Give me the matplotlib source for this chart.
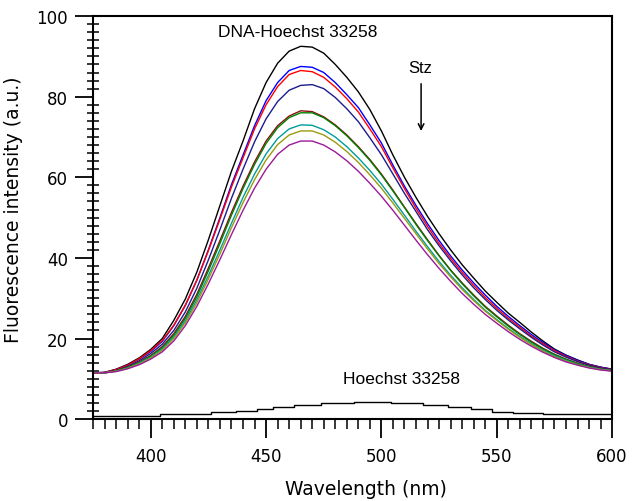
import numpy as np
import matplotlib
matplotlib.use('Agg')
import matplotlib.pyplot as plt
from matplotlib.ticker import MultipleLocator

# Lunghezze d'onda (nm), griglia da 5 nm
wl = np.arange(375, 601, 5)

# Spettri DNA-Hoechst 33258 con aggiunte crescenti di Stz
dna_hoechst = [11.5, 11.6, 12.4, 13.6, 15.2, 17.3, 20.0, 24.5, 29.8, 36.5, 44.5, 53.0, 61.5, 69.0, 77.0, 83.5,
               88.3, 91.3, 92.5, 92.3, 90.8, 88.0, 84.8, 81.2, 76.8, 71.5, 65.5, 60.0, 55.0, 50.3, 46.0, 42.0,
               38.3, 35.0, 31.8, 29.0, 26.3, 24.0, 21.6, 19.4, 17.4, 15.9, 14.7, 13.6, 12.9, 12.4]
stz_1 = [11.5, 11.6, 12.3, 13.4, 14.9, 16.8, 19.3, 23.2, 28.2, 34.5, 42.0, 50.0, 58.2, 65.5, 72.8, 79.0,
         83.5, 86.5, 87.5, 87.3, 86.0, 83.5, 80.5, 77.3, 73.0, 68.5, 63.0, 57.8, 53.0, 48.5, 44.3, 40.5,
         37.0, 33.8, 30.8, 28.0, 25.5, 23.2, 21.0, 19.0, 17.2, 15.8, 14.6, 13.6, 12.9, 12.4]
stz_2 = [11.4, 11.6, 12.3, 13.4, 15.0, 17.0, 19.5, 23.3, 28.3, 34.5, 41.8, 49.6, 57.6, 64.8, 72.0, 78.0,
         82.5, 85.5, 86.5, 86.2, 84.8, 82.4, 79.5, 76.2, 72.0, 67.6, 62.3, 57.2, 52.3, 47.8, 43.6, 39.9,
         36.4, 33.2, 30.2, 27.5, 25.0, 22.8, 20.6, 18.7, 17.0, 15.6, 14.4, 13.5, 12.8, 12.3]
stz_3 = [11.4, 11.5, 12.1, 13.1, 14.5, 16.3, 18.6, 22.0, 26.6, 32.5, 39.5, 47.0, 54.8, 62.0, 68.8, 74.5,
         78.8, 81.6, 82.8, 83.0, 82.0, 79.8, 77.0, 73.8, 69.8, 65.6, 60.8, 56.0, 51.5, 47.0, 43.0, 39.3,
         35.8, 32.6, 29.7, 27.0, 24.6, 22.4, 20.3, 18.4, 16.7, 15.4, 14.3, 13.4, 12.7, 12.3]
stz_4 = [11.4, 11.5, 12.0, 12.9, 14.2, 15.8, 18.0, 21.2, 25.5, 31.0, 37.5, 44.3, 51.3, 57.8, 63.8, 69.0,
         72.8, 75.2, 76.5, 76.3, 75.0, 73.0, 70.5, 67.6, 64.4, 60.8, 56.8, 52.6, 48.5, 44.5, 40.6, 37.0,
         33.8, 30.8, 28.0, 25.6, 23.3, 21.2, 19.3, 17.6, 16.1, 14.9, 13.9, 13.1, 12.5, 12.1]
stz_5 = [11.4, 11.5, 12.0, 12.8, 14.0, 15.6, 17.7, 20.8, 25.0, 30.4, 36.8, 43.6, 50.6, 57.2, 63.2, 68.4,
         72.3, 74.8, 76.0, 76.0, 74.8, 72.8, 70.3, 67.4, 64.2, 60.6, 56.6, 52.5, 48.3, 44.3, 40.5, 36.9,
         33.6, 30.6, 27.8, 25.4, 23.1, 21.0, 19.1, 17.4, 16.0, 14.8, 13.8, 13.0, 12.4, 12.1]
stz_6 = [11.4, 11.5, 11.9, 12.7, 13.9, 15.4, 17.4, 20.4, 24.4, 29.6, 35.6, 42.0, 48.6, 55.0, 60.8, 65.8,
         69.6, 72.0, 73.0, 72.9, 71.8, 70.0, 67.6, 64.8, 61.7, 58.3, 54.5, 50.6, 46.6, 42.8, 39.1, 35.7,
         32.6, 29.7, 27.0, 24.7, 22.5, 20.5, 18.7, 17.1, 15.7, 14.6, 13.6, 12.9, 12.4, 12.0]
stz_7 = [11.4, 11.5, 11.9, 12.6, 13.7, 15.2, 17.1, 20.0, 23.9, 28.9, 34.8, 41.0, 47.5, 53.7, 59.4, 64.3,
         68.1, 70.5, 71.5, 71.5, 70.5, 68.7, 66.4, 63.7, 60.6, 57.3, 53.6, 49.8, 46.0, 42.2, 38.6, 35.3,
         32.2, 29.4, 26.8, 24.5, 22.3, 20.3, 18.5, 16.9, 15.5, 14.4, 13.5, 12.8, 12.3, 12.0]
stz_8 = [11.4, 11.5, 11.8, 12.5, 13.5, 14.9, 16.7, 19.4, 23.2, 28.0, 33.6, 39.6, 45.8, 51.8, 57.3, 62.0,
         65.7, 68.0, 69.0, 69.0, 68.0, 66.3, 64.1, 61.5, 58.5, 55.3, 51.8, 48.1, 44.4, 40.8, 37.4, 34.2,
         31.2, 28.5, 26.0, 23.8, 21.7, 19.8, 18.1, 16.6, 15.3, 14.2, 13.4, 12.7, 12.2, 11.9]

spectra = [dna_hoechst, stz_1, stz_2, stz_3, stz_4, stz_5, stz_6, stz_7, stz_8]
colors = ['black', '#0000ff', '#ff0000', '#1c1c8c', '#8b1010', '#008000', '#009c9c', '#9a9a10', '#9a1a9a']

# Hoechst 33258 libero (spettro a gradini)
hoechst_wl = [375, 404, 426, 437, 446, 453, 462, 474, 488, 504, 518, 529, 539, 548, 557, 570, 600]
hoechst = [0.8, 1.4, 1.7, 2.1, 2.5, 3.0, 3.6, 3.9, 4.3, 3.9, 3.6, 2.9, 2.4, 1.9, 1.5, 1.2, 1.2]

fig = plt.figure(figsize=(6.33, 5.02), dpi=100)
ax = fig.add_axes([0.147, 0.163, 0.82, 0.803])

for y, c in zip(spectra, colors):
    ax.plot(wl, y, color=c, lw=1.0)
ax.step(hoechst_wl, hoechst, where='post', color='black', lw=1.0)

ax.set_xlim(375, 600)
ax.set_ylim(0, 100)
ax.xaxis.set_major_locator(MultipleLocator(50))
ax.xaxis.set_minor_locator(MultipleLocator(5))
ax.yaxis.set_major_locator(MultipleLocator(20))
ax.yaxis.set_minor_locator(MultipleLocator(2))

ax.tick_params(axis='x', which='major', direction='out', length=14, width=1.3, pad=6, labelsize=12)
ax.tick_params(axis='x', which='minor', direction='out', length=7, width=1.1)
ax.tick_params(axis='y', which='major', direction='out', length=13, width=1.3, pad=5, labelsize=12)
ax.tick_params(axis='y', which='minor', direction='inout', length=8, width=1.1)
for s in ax.spines.values():
    s.set_linewidth(1.5)

ax.set_xlabel('Wavelength (nm)', fontsize=13.5)
ax.xaxis.set_label_coords(0.526, -0.148)
ax.set_ylabel('Fluorescence intensity (a.u.)', fontsize=13.5)
ax.yaxis.set_label_coords(-0.135, 0.522)

# Annotazioni
ax.text(463.5, 96.1, 'DNA-Hoechst 33258', ha='center', va='center', fontsize=12.5, family='Liberation Sans')
ax.text(517, 87.3, 'Stz', ha='center', va='center', fontsize=12, family='Liberation Sans')
ax.annotate('', xy=(517.2, 70.8), xytext=(517.2, 83.9),
            arrowprops=dict(arrowstyle='->', color='black', lw=1.1))
ax.text(508.5, 10, 'Hoechst 33258', ha='center', va='center', fontsize=12.5, family='Liberation Sans')

plt.savefig('out.png', dpi=100)
